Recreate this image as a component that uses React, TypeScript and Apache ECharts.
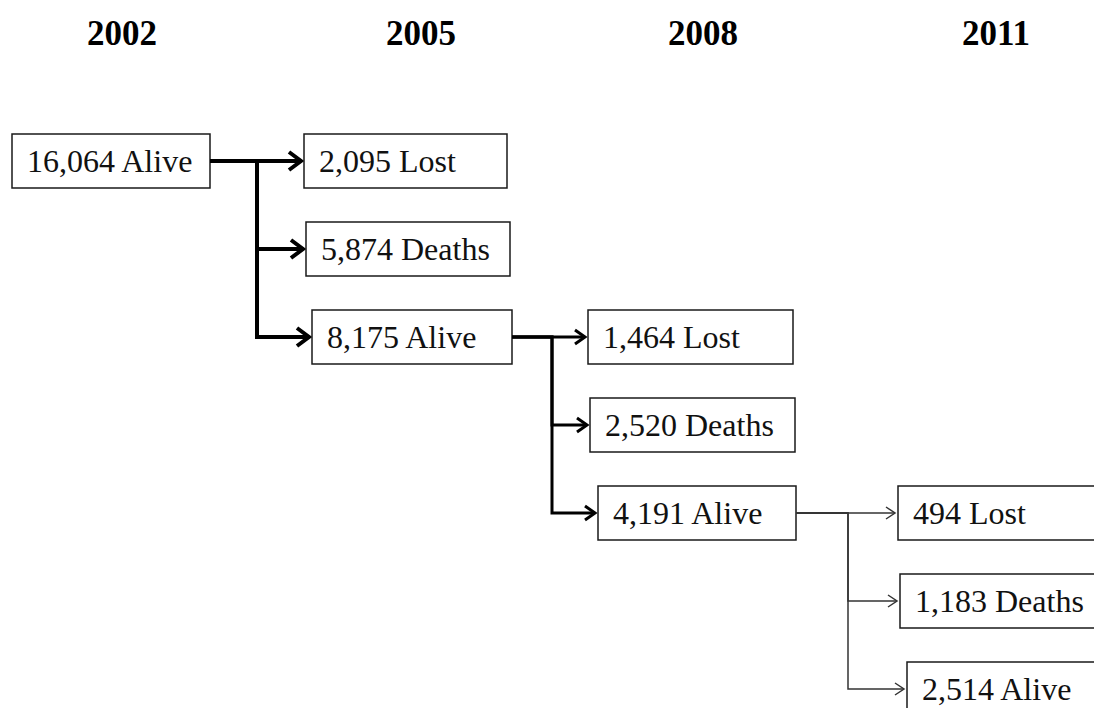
import React, { useEffect, useRef } from "react";
import * as echarts from "echarts";

// ---- data ----
const years = ["2002", "2005", "2008", "2011"];
const counts = [16064, 2095, 5874, 8175, 1464, 2520, 4191, 494, 1183, 2514];
const outcomes = ["Alive", "Lost", "Deaths", "Alive", "Lost", "Deaths", "Alive", "Lost", "Deaths", "Alive"];
const stages = [0, 1, 1, 1, 2, 2, 2, 3, 3, 3];
const parents = [-1, 0, 0, 0, 3, 3, 3, 6, 6, 6];
const rows = [0, 0, 1, 2, 2, 3, 4, 4, 5, 6];

// ---- layout (positions / styles) ----
const boxLeft = [12, 304, 306, 312, 588, 590, 598, 898, 900, 907];
const boxWidth = [198, 203, 204, 200, 205, 205, 198, 230, 230, 230];
const boxHeight = 54;
const headerX = [122, 421, 703, 996];
const junctionX = [257, 552, 848];
const stageLineWidth = [4, 3, 1.5];
const stageLineColor = ["#000", "#000", "#333"];
const arrowLen = [12, 10, 9];
const arrowHalf = [9, 7, 6];

const fmt = (n: number) => n.toLocaleString("en-US");

export default function App() {
  const ref = useRef<HTMLDivElement>(null);
  useEffect(() => {
    if (!ref.current) return;
    const chart = echarts.init(ref.current, null, { renderer: "svg" });
    const data = counts.map((c, i) => [boxLeft[i], rows[i], i]);
    chart.setOption({
      animation: false,
      backgroundColor: "#fff",
      grid: { left: 0, right: 0, top: 0, bottom: 0 },
      xAxis: { type: "value", min: 0, max: 1094, show: false },
      yAxis: { type: "value", min: -161 / 88, max: (708 - 161) / 88, inverse: true, show: false },
      graphic: years.map((y, i) => ({
        type: "text",
        x: headerX[i],
        y: 33,
        style: {
          text: y,
          font: 'bold 35px "Liberation Serif"',
          fill: "#000",
          align: "center",
          verticalAlign: "middle",
        },
      })),
      series: [
        {
          type: "custom",
          coordinateSystem: "cartesian2d",
          encode: { x: 0, y: 1 },
          data,
          renderItem: (params: any, api: any) => {
            const i = api.value(2);
            const [x, cy] = api.coord([api.value(0), api.value(1)]);
            const w = boxWidth[i];
            const children: any[] = [];
            const p = parents[i];
            if (p >= 0) {
              const ps = stages[p];
              const [px, py] = api.coord([boxLeft[p] + boxWidth[p], rows[p]]);
              const [jx] = api.coord([junctionX[ps], 0]);
              const tip = x - 3;
              const lw = stageLineWidth[ps];
              const col = stageLineColor[ps];
              children.push({
                type: "polyline",
                shape: { points: [[px, py], [jx, py], [jx, cy], [tip - lw / 2, cy]] },
                style: { stroke: col, lineWidth: lw, fill: null, lineJoin: "miter" },
              });
              children.push({
                type: "polyline",
                shape: {
                  points: [
                    [tip - arrowLen[ps], cy - arrowHalf[ps]],
                    [tip, cy],
                    [tip - arrowLen[ps], cy + arrowHalf[ps]],
                  ],
                },
                style: { stroke: col, lineWidth: lw, fill: null, lineJoin: "miter" },
              });
            }
            children.push({
              type: "rect",
              shape: { x, y: cy - boxHeight / 2, width: w, height: boxHeight },
              style: { fill: "#fff", stroke: "#1a1a1a", lineWidth: 1.5 },
            });
            children.push({
              type: "text",
              x: x + 15,
              y: cy,
              style: {
                text: fmt(counts[i]) + " " + outcomes[i],
                font: '32px "Liberation Serif"',
                fill: "#111",
                align: "left",
                verticalAlign: "middle",
              },
            });
            return { type: "group", children };
          },
        },
      ],
    });
    return () => chart.dispose();
  }, []);
  return (
    <div
      ref={ref}
      style={{ position: "fixed", left: 0, top: 0, width: 1094, height: 708 }}
    />
  );
}
